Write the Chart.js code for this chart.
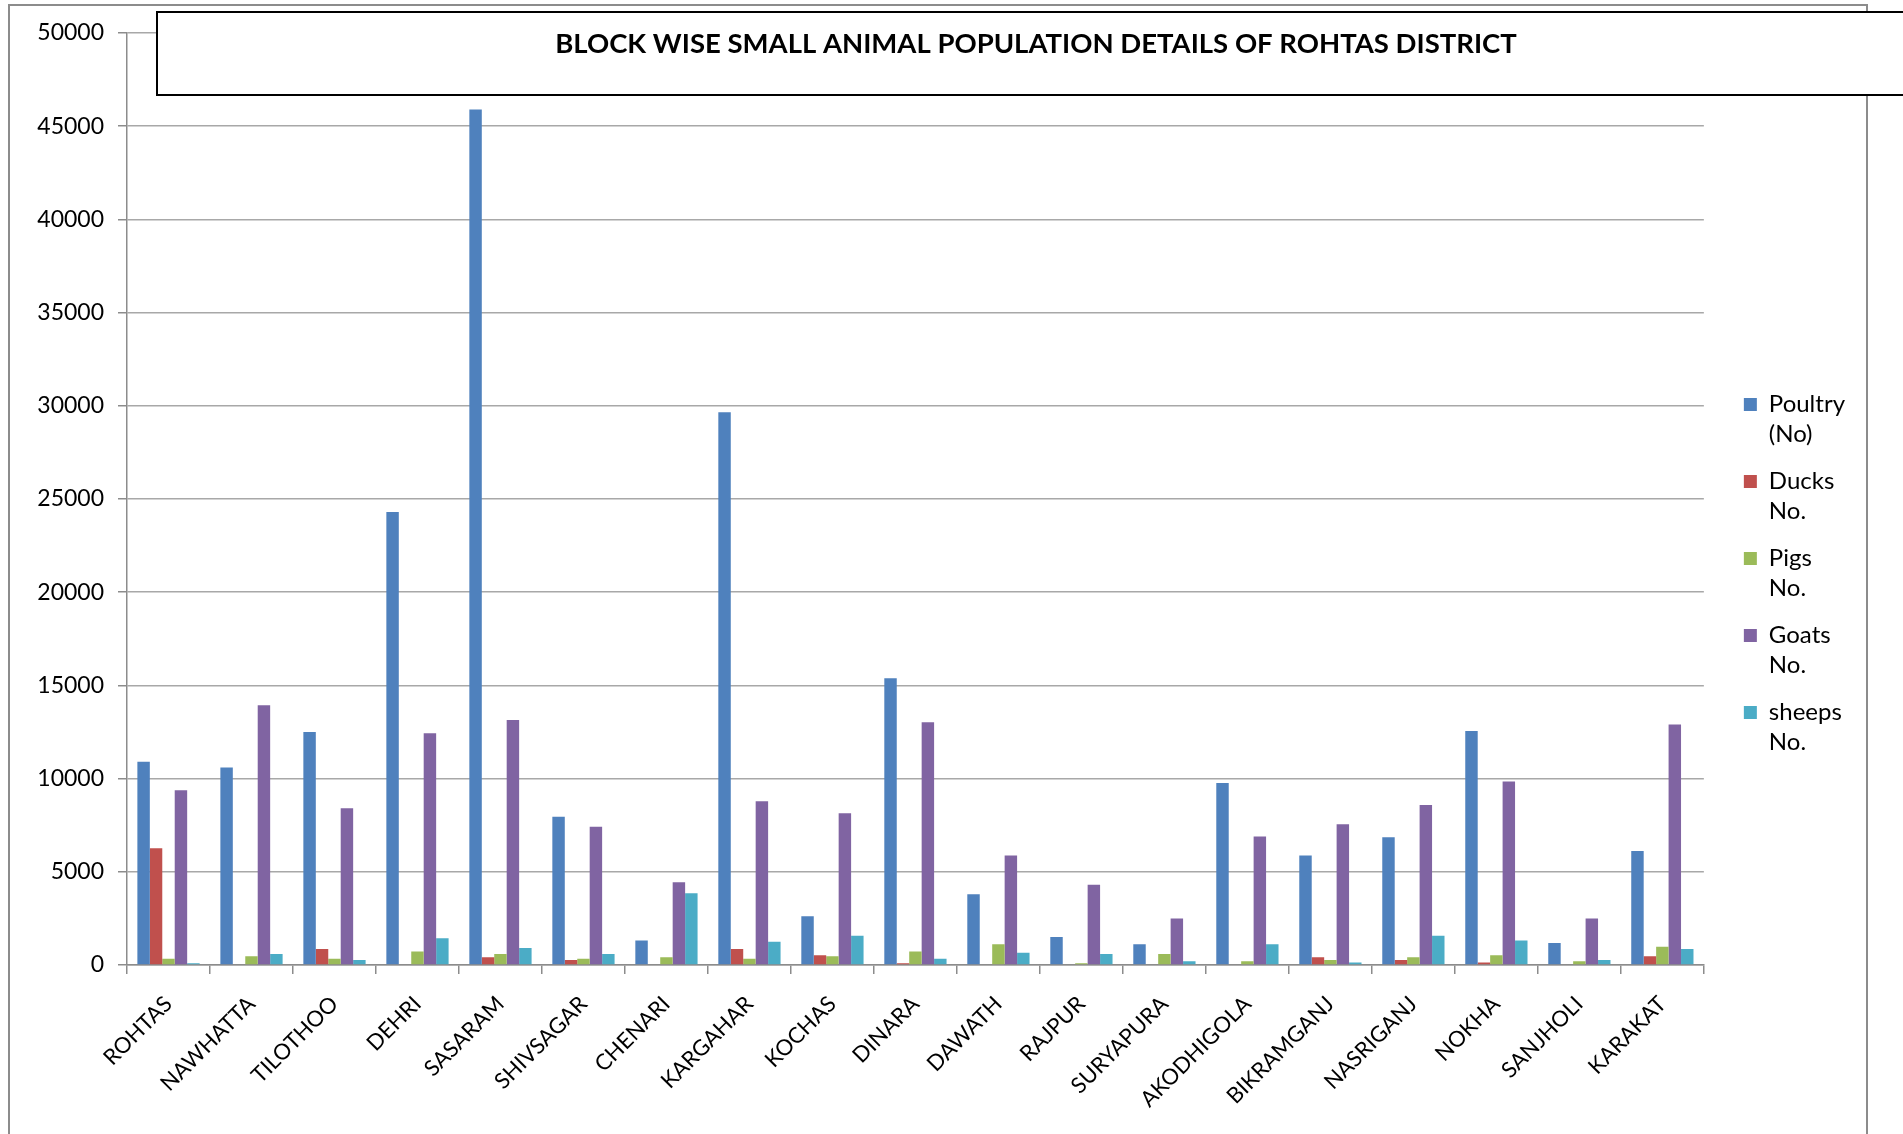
<!DOCTYPE html>
<html>
<head>
<meta charset="utf-8">
<title>Block wise small animal population - Rohtas</title>
<script src="https://cdn.jsdelivr.net/npm/chart.js@4.4.1/dist/chart.umd.min.js"></script>
<style>
  html, body { margin: 0; padding: 0; background: #fff; }
  canvas { display: block; }
</style>
</head>
<body>
<canvas id="chart" width="1903" height="1134"></canvas>
<script>
// --- Data ---
const blocks = ['ROHTAS', 'NAWHATTA', 'TILOTHOO', 'DEHRI', 'SASARAM', 'SHIVSAGAR', 'CHENARI',
  'KARGAHAR', 'KOCHAS', 'DINARA', 'DAWATH', 'RAJPUR', 'SURYAPURA', 'AKODHIGOLA',
  'BIKRAMGANJ', 'NASRIGANJ', 'NOKHA', 'SANJHOLI', 'KARAKAT'];

const poultry = [10900, 10600, 12500, 24300, 45900, 7950, 1320, 29650, 2620, 15380,
  3790, 1500, 1110, 9770, 5870, 6850, 12560, 1180, 6120];
const ducks = [6260, 0, 860, 0, 410, 270, 0, 860, 520, 90,
  0, 0, 0, 0, 410, 270, 140, 0, 470];
const pigs = [340, 470, 340, 730, 590, 340, 410, 340, 470, 720,
  1110, 90, 590, 200, 270, 410, 520, 200, 980];
const goats = [9380, 13930, 8410, 12430, 13150, 7420, 4440, 8780, 8140, 13020,
  5870, 4310, 2490, 6900, 7550, 8590, 9840, 2490, 12900];
const sheeps = [90, 590, 270, 1430, 910, 590, 3850, 1250, 1570, 340,
  660, 590, 200, 1110, 140, 1570, 1310, 270, 860];

const seriesLabels = [['Poultry', '(No)'], ['Ducks', 'No.'], ['Pigs', 'No.'], ['Goats', 'No.'], ['sheeps', 'No.']];
const chartTitle = 'BLOCK WISE SMALL ANIMAL POPULATION DETAILS OF ROHTAS DISTRICT';

// --- Excel 2007 palette ---
const COLORS = ['#4F81BD', '#C0504D', '#9BBB59', '#8064A2', '#4BACC6'];
const GRID_COLOR = '#a8a8a8';
const AXIS_COLOR = '#8c8c8c';
const FONT = "Lato, 'Open Sans', sans-serif";

// Outer frame + boxed title drawn like the spreadsheet chart
const framePlugin = {
  id: 'frame',
  beforeDraw(chart) {
    const ctx = chart.ctx;
    ctx.save();
    ctx.fillStyle = '#fff';
    ctx.fillRect(0, 0, chart.width, chart.height);
    ctx.strokeStyle = '#8c8c8c';
    ctx.lineWidth = 2;
    ctx.beginPath();
    ctx.moveTo(9, chart.height + 2);
    ctx.lineTo(9, 5);
    ctx.lineTo(1867, 5);
    ctx.lineTo(1867, chart.height + 2);
    ctx.stroke();
    ctx.restore();
  },
  afterDraw(chart) {
    const ctx = chart.ctx;
    ctx.save();
    ctx.fillStyle = '#fff';
    ctx.fillRect(157, 12, 1780, 83);
    ctx.strokeStyle = '#000';
    ctx.lineWidth = 2;
    ctx.strokeRect(157, 12, 1780, 83);
    ctx.fillStyle = '#000';
    ctx.font = "bold 27.5px " + FONT;
    ctx.textAlign = 'center';
    ctx.textBaseline = 'middle';
    ctx.fillText(chartTitle, 1036, 44);
    ctx.restore();
  }
};

const datasets = [poultry, ducks, pigs, goats, sheeps].map((values, i) => ({
  label: seriesLabels[i],
  data: values,
  backgroundColor: COLORS[i],
  borderWidth: 0,
  categoryPercentage: 0.75,
  barPercentage: 1.0,
}));

new Chart(document.getElementById('chart'), {
  type: 'bar',
  data: { labels: blocks, datasets },
  options: {
    responsive: false,
    animation: false,
    devicePixelRatio: 1,
    layout: { padding: { left: 10, top: 33, right: 48, bottom: 14 } },
    plugins: {
      title: { display: false },
      tooltip: { enabled: false },
      legend: {
        position: 'right',
        labels: {
          font: { family: FONT, size: 24, lineHeight: 1.25 },
          color: '#000',
          boxWidth: 13,
          boxHeight: 13,
          padding: 17,
        },
      },
    },
    scales: {
      x: {
        grid: {
          drawOnChartArea: false,
          drawTicks: true,
          tickLength: 9,
          color: AXIS_COLOR,
          lineWidth: 1.5,
        },
        border: { color: AXIS_COLOR, width: 1.5 },
        ticks: {
          autoSkip: false,
          maxRotation: 45,
          minRotation: 45,
          color: '#000',
          padding: 17,
          font: { family: FONT, size: 22 },
        },
        afterFit: (s) => { s.height = 155; },
      },
      y: {
        min: 0,
        max: 50000,
        grid: {
          color: GRID_COLOR,
          lineWidth: 1.5,
          tickLength: 9,
          tickColor: AXIS_COLOR,
        },
        border: { color: AXIS_COLOR, width: 1.5 },
        ticks: {
          stepSize: 5000,
          color: '#000',
          padding: 14,
          font: { family: FONT, size: 23 },
          callback: (v) => String(v),
        },
        afterFit: (s) => { s.width = 117; },
      },
      // spacer between plot and legend
      gap: {
        position: 'right',
        display: true,
        grid: { display: false },
        border: { display: false },
        ticks: { display: false },
        afterFit: (s) => { s.width = 23; },
      },
    },
  },
  plugins: [framePlugin],
});
</script>
</body>
</html>
